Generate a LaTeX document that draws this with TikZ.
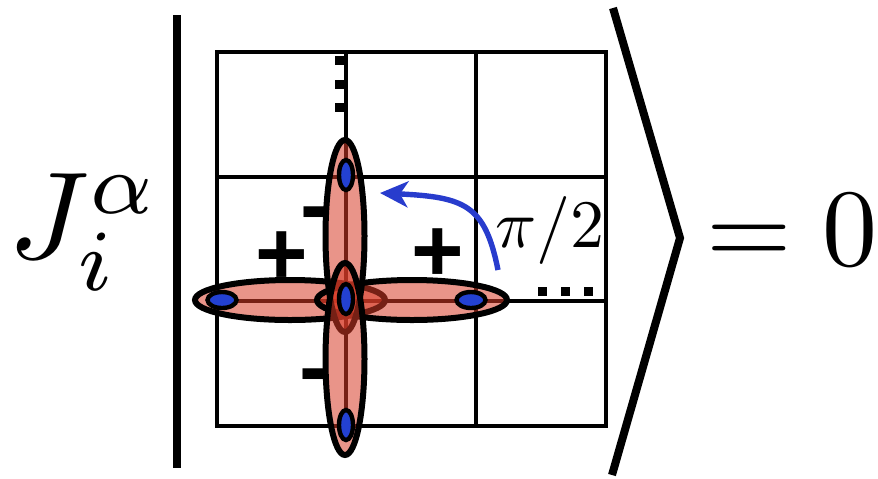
\documentclass[tikz,border=0pt]{standalone}
\usepackage{fontspec}
\newfontfamily\signfont{Liberation Sans}
\usetikzlibrary{arrows.meta}
\definecolor{lobered}{RGB}{215,60,40}
\definecolor{spotblue}{RGB}{35,65,210}
\definecolor{rotblue}{RGB}{40,60,205}
\begin{document}
\begin{tikzpicture}[x=0.5pt, y=-0.5pt,
    gridline/.style={line width=2.4pt},
    lobe/.style={draw=black, line width=3pt, fill=lobered, fill opacity=0.55},
    spot/.style={draw=black, line width=2.2pt, fill=spotblue},
    sign/.style={font=\signfont\bfseries\fontsize{45}{45}\selectfont, inner sep=0pt},
    rotarrow/.style={draw=rotblue, line width=2.7pt, -{Stealth[length=14pt, width=13pt, inset=4pt]}}]
    \useasboundingbox (0,0) rectangle (878,478);
    
    % 左边的算符
    \node[inner sep=0pt, anchor=base] (op) at (84,258) {\scalebox{6.2}{$J_i^\alpha$}};
    
    % 左竖线和右尖括号
    \draw[line width=4pt] (177,15) -- (177,468);
    \draw[line width=4pt] (613,8) -- (680,238) -- (612,475);
    
    % 方格
    \draw[gridline] (217,52) rectangle (606,426);
    \foreach \x in {346,476} \draw[gridline] (\x,52) -- (\x,426);
    \foreach \y in {177,301} \draw[gridline] (217,\y) -- (606,\y);
    
    % 省略号 (竖的和横的)
    \foreach \y in {60,84,107} \fill (335,\y-4.5) rectangle (345,\y+4.5);
    \foreach \x in {542,565,588} \fill (\x-4.5,287) rectangle (\x+4.5,296);
    
    % 四个椭圆
    \draw[lobe] (290,300) ellipse [x radius=95, y radius=20];
    \draw[lobe] (412,300) ellipse [x radius=95, y radius=20];
    \draw[lobe] (345,236) ellipse [x radius=19.5, y radius=96];
    \draw[lobe] (345,359) ellipse [x radius=19.5, y radius=96];
    
    % 蓝点
    \foreach \x in {222,471} \draw[spot] (\x,300) ellipse [x radius=14.5, y radius=8];
    \foreach \y in {175,299,425} \draw[spot] (346,\y) ellipse [x radius=7, y radius=15];
    
    % 正负号
    \node[sign] (plusL) at (282,258) {+};
    \node[sign] (plusR) at (438,255) {+};
    \node[sign] (minusU) at (315,221) {-};
    \node[sign] (minusD) at (314,383) {-};
    
    % 旋转箭头
    \coordinate (rotfrom) at (498,270);
    \coordinate (rotto) at (380,193);
    \draw[rotarrow] (rotfrom) .. controls (485,205) and (465,197) .. (rotto);
    \node[inner sep=0pt, anchor=base] (ang) at (550,247) {\scalebox{3.4}{$\pi/2$}};
    
    % 右边
    \node[inner sep=0pt, anchor=base] (res) at (792,265) {\scalebox{5.5}{$=0$}};
    
\end{tikzpicture}
\end{document}
